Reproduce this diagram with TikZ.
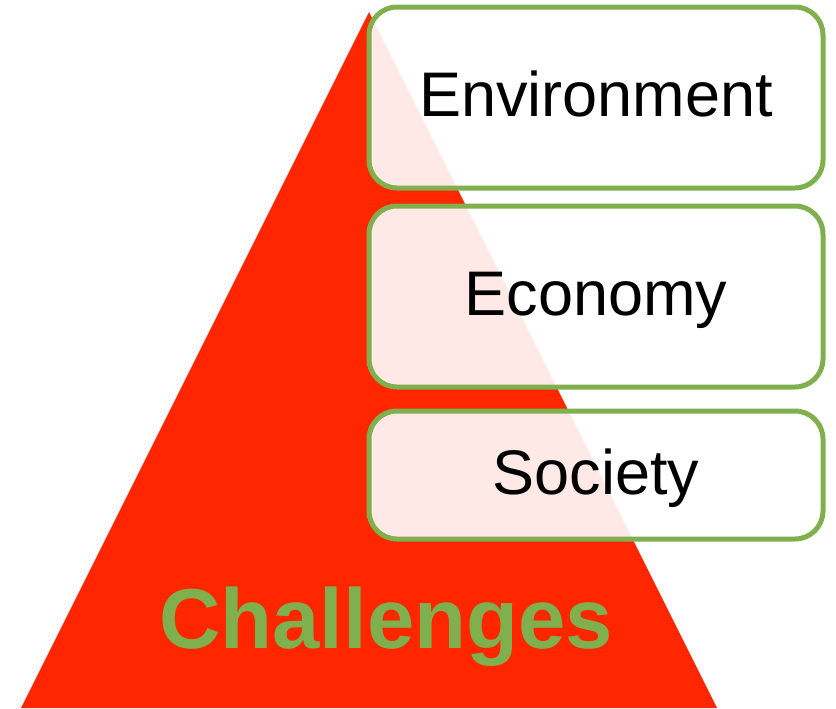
\documentclass[tikz,border=0pt]{standalone}
\usepackage{fontspec}
\setmainfont{Liberation Sans}
\usetikzlibrary{positioning}
\definecolor{pyrred}{HTML}{FF2600}
\definecolor{boxgreen}{HTML}{7FB04D}

\begin{document}
\begin{tikzpicture}[x=0.5pt, y=-0.5pt,
    goalbox/.style={draw=boxgreen, line width=2.5pt, rounded corners=14pt,
        fill=white, fill opacity=0.9, text opacity=1, minimum width=227pt,
        text height=23pt, text depth=4pt, font=\fontsize{31.5}{38}\selectfont}]
    \useasboundingbox (0,0) rectangle (836,708);

    % Pyramid
    \fill[pyrred] (369,12) -- (717,708) -- (21,708) -- cycle;

    % Boxes on the right
    \node[goalbox, minimum height=90.5pt] (env) at (596,97.5) {Environment};
    \node[goalbox, minimum height=90.5pt, below=6.5pt of env] (eco) {Economy};
    \node[goalbox, minimum height=64pt, below=9.5pt of eco] (soc) {Society};

    % Title on the pyramid
    \node[anchor=base, text=boxgreen, font=\fontsize{42.5}{50}\selectfont\bfseries] (chal) at (386,648) {Challenges};
\end{tikzpicture}
\end{document}
